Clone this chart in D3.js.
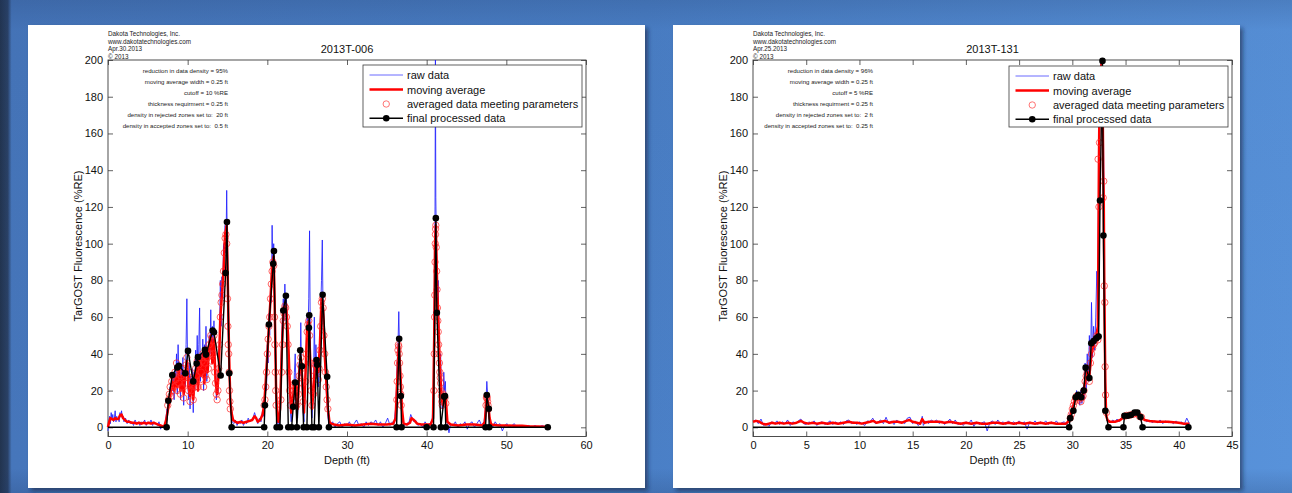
<!DOCTYPE html>
<html><head><meta charset="utf-8">
<script src="https://cdn.jsdelivr.net/npm/d3@7"></script>
<style>
html,body{margin:0;padding:0;background:#4a7fc6;}
svg{display:block;}
text{font-family:"Liberation Sans",Arial,Helvetica,sans-serif;}
</style>
</head><body>
<svg id="c" width="1292" height="493"></svg>
<script>
// ---------------- DATA ----------------
const yTicks = [0,20,40,60,80,100,120,140,160,180,200];
const leftXTicks = [0,10,20,30,40,50,60];
const rightXTicks = [0,5,10,15,20,25,30,35,40,45];

const leftTitle = "2013T-006";
const rightTitle = "2013T-131";
const xLabel = "Depth (ft)";
const yLabel = "TarGOST Fluorescence (%RE)";
const legendLabels = ["raw data","moving average","averaged data meeting parameters","final processed data"];
const leftHeader = ["Dakota Technologies, Inc.","www.dakotatechnologies.com","Apr.30.2013","\u00a9 2013"];
const rightHeader = ["Dakota Technologies, Inc.","www.dakotatechnologies.com","Apr.25.2013","\u00a9 2013"];
const leftNotes = ["reduction in data density = 95%","moving average width = 0.25 ft","cutoff = 10 %RE","thickness requirment = 0.25 ft","density in rejected zones set to:  20 ft","density in accepted zones set to:  0.5 ft"];
const rightNotes = ["reduction in data density = 96%","moving average width = 0.25 ft","cutoff = 5 %RE","thickness requirment = 0.25 ft","density in rejected zones set to:  2 ft","density in accepted zones set to:  0.25 ft"];

// raw data [depth, %RE]
const leftRaw = [[0,-2],[0.1,3],[0.2,6],[0.3,2],[0.4,8],[0.5,4],[0.6,7],[0.7,3],[0.8,5],[0.9,9],[1.0,3],[1.1,6],[1.2,4],[1.3,5],[1.4,3],[1.5,8],[1.6,6],[1.7,9],[1.8,5],[1.9,6],[2.0,3],[2.2,5],[2.4,2],[2.6,4],[2.8,2],[3.0,3],[3.2,1],[3.4,4],[3.6,2],[3.8,3],[4.0,1],[4.2,3],[4.4,2],[4.6,4],[4.8,1],[5.0,3],[5.2,2],[5.4,4],[5.6,1],[5.8,3],[6.0,2],[6.2,1],[6.4,3],[6.6,-1],[6.8,1],[7.0,0],[7.2,3],
[7.3,6],[7.4,10],[7.5,8],[7.6,15],[7.7,12],[7.8,22],[7.9,18],[8.0,28],[8.1,20],[8.2,30],[8.3,15],[8.4,32],[8.5,24],[8.6,40],[8.7,18],[8.8,45],[8.9,25],[9.0,35],[9.1,15],[9.2,33],[9.3,20],[9.4,38],[9.5,12],[9.6,30],[9.7,22],[9.8,45],[9.9,70],[10.0,30],[10.1,15],[10.2,35],[10.3,10],[10.4,28],[10.5,18],[10.6,32],[10.7,8],[10.8,30],[10.9,20],[11.0,42],[11.1,28],[11.2,50],[11.3,22],[11.4,45],[11.5,65],[11.6,25],[11.7,40],[11.8,30],[11.9,48],[12.0,20],[12.1,45],[12.2,30],[12.3,55],[12.4,25],[12.5,42],[12.6,35],[12.7,50],[12.8,40],[12.9,64],[13.0,35],[13.1,55],[13.2,38],[13.3,58],[13.4,30],[13.5,35],[13.6,15],[13.7,25],[13.8,18],[13.9,35],[14.0,50],[14.1,80],[14.2,55],[14.3,82],[14.4,70],[14.5,100],[14.6,85],[14.7,110],[14.8,95],[14.9,129],[15.0,90],[15.1,50],[15.2,35],[15.3,18],[15.4,10],[15.5,5],[15.6,3],
[15.8,2],[16.0,4],[16.2,1],[16.4,3],[16.6,2],[16.8,4],[17.0,1],[17.2,3],[17.4,2],[17.6,5],[17.8,3],[18.0,4],[18.2,5],[18.4,8],[18.6,5],[18.8,2],[19.0,5],[19.2,3],[19.4,9],
[19.5,6],[19.6,15],[19.7,10],[19.8,28],[19.9,20],[20.0,45],[20.1,35],[20.2,62],[20.3,50],[20.4,75],[20.5,68],[20.6,110],[20.7,85],[20.8,100],[20.9,70],[21.0,40],[21.1,15],[21.2,5],[21.3,2],[21.4,4],[21.5,1],[21.6,12],[21.7,30],[21.8,48],[21.9,60],[22.0,70],[22.1,58],[22.2,78],[22.3,62],[22.4,70],[22.5,55],[22.6,48],[22.7,30],[22.8,20],[22.9,8],[23.0,3],[23.1,10],[23.2,18],[23.3,12],[23.4,30],[23.5,40],[23.6,20],[23.7,12],[23.8,5],[23.9,20],[24.0,35],[24.1,28],[24.2,57],[24.3,30],[24.4,20],[24.5,8],[24.6,3],[24.7,15],[24.8,35],[24.9,45],[25.0,60],[25.1,50],[25.2,70],[25.3,107],[25.4,45],[25.5,20],[25.6,5],[25.7,12],[25.8,25],[25.9,60],[26.0,30],[26.1,45],[26.2,32],[26.3,38],[26.4,22],[26.5,30],[26.6,50],[26.7,65],[26.8,80],[26.9,102],[27.0,60],[27.1,50],[27.2,35],[27.3,30],[27.4,20],[27.5,12],[27.6,6],[27.7,2],[27.8,4],[27.9,1],
[28.2,3],[28.5,0],[28.8,2],[29.1,3],[29.4,0],[29.7,2],[30.0,1],[30.3,3],[30.6,0],[30.9,2],[31.2,4],[31.5,1],[31.8,2],[32.1,0],[32.4,3],[32.7,1],[33.0,3],[33.3,2],[33.6,4],[33.9,1],[34.2,3],[34.5,0],[34.8,2],[35.1,5],[35.4,1],[35.7,3],[35.9,2],[36.0,6],[36.1,10],[36.2,20],[36.3,35],[36.4,45],[36.5,63],[36.6,40],[36.7,30],[36.8,15],[36.9,8],[37.0,3],[37.2,1],[37.5,2],[37.8,3],[38.0,7],[38.2,5],[38.4,3],[38.6,4],[38.9,1],[39.2,2],[39.5,0],[39.8,3],[40.1,1],[40.4,2],[40.7,4],[40.85,20],[40.95,60],[41.05,120],[41.1,200],[41.15,125],[41.25,90],[41.35,70],[41.45,80],[41.55,50],[41.65,35],[41.75,40],[41.85,20],[41.95,10],[42.05,15],[42.15,30],[42.25,20],[42.35,25],[42.45,8],[42.6,2],[42.8,-3],[43.0,2],[43.3,1],[43.6,3],[43.9,0],[44.2,2],[44.5,1],[44.8,3],[45.1,-1],[45.4,2],[45.7,3],[46.0,0],[46.3,2],[46.6,4],[46.9,1],[47.2,3],[47.35,8],[47.45,15],[47.55,25],[47.65,18],[47.75,12],[47.85,6],[48.0,2],[48.3,0],[48.6,3],[48.9,1],[49.2,2],[49.5,-2],[49.8,1],[50.1,2],[50.4,0],[50.7,1],[51.0,2],[51.3,0],[51.6,1],[52.0,1],[52.4,0],[52.8,1],[53.2,0],[53.6,1],[54.0,0],[54.5,1],[55.0,0],[55.2,0.5]];

// moving average [depth, %RE]
const leftAvg = [[0,0],[0.15,3],[0.3,5],[0.5,4.5],[0.7,4],[0.9,5],[1.1,4.5],[1.3,4.5],[1.5,6.5],[1.7,7],[1.9,5],[2.1,4],[2.4,3],[2.7,3],[3.0,2.5],[3.3,2.5],[3.6,2],[3.9,2.5],[4.2,2],[4.5,2.5],[4.8,2],[5.1,2.5],[5.4,2],[5.7,2.5],[6.0,2],[6.3,1.5],[6.6,1],[6.9,0.5],[7.1,1],[7.3,4],
[7.5,9],[7.7,14],[7.9,20],[8.1,25],[8.3,20],[8.5,27],[8.7,22],[8.9,31],[9.1,20],[9.3,28],[9.5,18],[9.7,30],[9.9,36],[10.1,22],[10.3,17],[10.5,26],[10.7,15],[10.9,28],[11.1,33],[11.3,20],[11.5,38],[11.7,28],[11.9,40],[12.1,24],[12.3,43],[12.5,30],[12.7,45],[12.9,50],[13.1,35],[13.3,48],[13.5,25],[13.7,18],[13.9,30],[14.1,60],[14.3,72],[14.5,85],[14.7,105],[14.9,110],[15.05,75],[15.2,40],[15.35,15],[15.5,8],[15.7,4],[16,3],[16.3,2.5],[16.6,3],[17,2.5],[17.4,3],[17.8,3.5],[18.1,4],[18.4,6],[18.6,5],[18.8,3],[19.1,4],[19.4,7],[19.6,12],[19.8,25],[20.0,40],[20.2,55],[20.4,70],[20.6,88],[20.8,93],[20.95,60],[21.1,20],[21.25,5],[21.4,3],[21.6,10],[21.8,40],[22.0,62],[22.2,66],[22.4,64],[22.6,50],[22.8,25],[23.0,8],[23.2,15],[23.4,24],[23.6,22],[23.8,10],[24.0,30],[24.2,38],[24.4,25],[24.6,8],[24.8,30],[25.0,55],[25.2,58],[25.4,35],[25.6,10],[25.8,20],[26.0,35],[26.2,36],[26.4,30],[26.6,45],[26.8,70],[27.0,65],[27.2,40],[27.4,25],[27.6,10],[27.8,3],[28.0,2],[28.4,1.5],
[29,1],[30,1.5],[31,1],[32,1.5],[33,2],[34,1.5],[35,1.5],[35.8,2],[36.1,5],[36.3,25],[36.5,45],[36.7,30],[36.9,10],[37.1,2],[37.5,1.5],[37.9,2.5],[38.1,5],[38.4,4],[38.8,2],[39.3,1.5],[40,1.5],[40.5,1.5],[40.8,5],[40.95,50],[41.05,100],[41.15,110],[41.3,80],[41.45,60],[41.6,40],[41.75,25],[41.9,15],[42.05,12],[42.2,17],[42.4,15],[42.6,3],[43,1.5],[44,1],[45,1.5],[46,1.5],[47,1],[47.3,3],[47.5,15],[47.7,14],[47.9,5],[48.1,1.5],[49,1],[50,1],[51,0.8],[52,0.8],[53,0.5],[54,0.5],[55,0.3]];

// averaged data meeting parameters [depth, %RE]
const leftCircles = [[7.5,12],[7.6,15],[7.7,18],[7.8,22],[7.9,17],[8.0,25],[8.1,20],[8.2,28],[8.3,22],[8.4,30],[8.5,26],[8.6,35],[8.7,20],[8.8,32],[8.9,24],[9.0,30],[9.1,18],[9.2,28],[9.3,22],[9.4,32],[9.5,16],[9.6,27],[9.7,24],[9.8,34],[9.9,38],[10.0,28],[10.1,20],[10.2,30],[10.3,14],[10.4,24],[10.5,20],[10.6,26],[10.7,15],[10.8,25],[10.9,22],[11.0,32],[11.1,28],[11.2,36],[11.3,22],[11.4,34],[11.5,38],[11.6,26],[11.7,30],[11.8,36],[11.9,40],[12.0,22],[12.1,35],[12.2,28],[12.3,42],[12.4,26],[12.5,38],[12.6,32],[12.7,45],[12.8,40],[12.9,50],[13.0,36],[13.1,47],[13.2,40],[13.3,50],[13.4,30],[13.5,24],[13.6,18],[13.7,15],[13.8,20],[13.9,32],[14.0,45],[14.1,60],[14.2,68],[14.3,72],[14.4,78],[14.5,85],[14.6,95],[14.7,103],[14.8,105],[14.9,100],[15.0,70],[15.05,55],[15.1,45],[15.15,40],[15.2,30],[15.25,20],[15.3,14],[15.35,10],
[19.6,12],[19.7,15],[19.8,22],[19.9,30],[20.0,40],[20.1,48],[20.2,55],[20.3,60],[20.4,70],[20.5,78],[20.6,85],[20.7,90],[20.8,88],[20.9,60],[20.95,45],[21.0,30],[21.05,20],[21.1,12],[21.7,15],[21.8,30],[21.9,45],[22.0,58],[22.1,62],[22.2,66],[22.3,65],[22.4,60],[22.5,55],[22.6,45],[22.7,30],[22.8,20],[22.9,12],[23.2,14],[23.3,20],[23.4,24],[23.5,22],[23.6,18],[23.7,12],[23.9,18],[24.0,28],[24.1,34],[24.2,38],[24.3,32],[24.4,24],[24.5,14],[24.8,25],[24.9,40],[25.0,52],[25.1,56],[25.2,58],[25.3,50],[25.4,35],[25.5,20],[25.6,12],[25.8,18],[25.9,28],[26.0,34],[26.1,36],[26.2,33],[26.3,30],[26.4,26],[26.5,32],[26.6,42],[26.7,55],[26.8,68],[26.9,70],[27.0,65],[27.1,50],[27.2,40],[27.3,30],[27.4,22],[27.5,15],[27.6,10],
[36.25,15],[36.3,25],[36.35,35],[36.4,42],[36.45,45],[36.5,44],[36.55,40],[36.6,35],[36.65,28],[36.7,22],[36.75,18],[36.8,12],
[40.9,20],[40.95,40],[41.0,60],[41.02,72],[41.05,90],[41.08,100],[41.1,105],[41.12,108],[41.15,110],[41.2,98],[41.25,85],[41.3,75],[41.35,65],[41.4,58],[41.45,52],[41.5,45],[41.55,40],[41.6,35],[41.65,30],[41.7,27],[41.75,24],[41.8,20],[41.85,17],[41.9,14],[41.95,12],[42.0,15],[42.1,18],[42.2,17],[42.3,16],[42.4,13],
[47.45,12],[47.5,16],[47.55,17],[47.6,16],[47.65,14],[47.7,12],[47.75,10]];

// final processed data [depth, %RE]
const leftFinal = [[0,0],[7.36,0],[7.57,14.5],[8.07,28.5],[8.7,32.6],[8.9,33.5],[9.7,29.4],[10.04,41.6],[10.7,25],[11.13,34.7],[11.29,38.2],[12.17,42.2],[12.3,39.6],[13.13,52.7],[13.3,51.8],[14.14,28.2],[14.76,84],[14.93,111.8],[15.22,29.4],[15.52,0],[19.6,0],[19.7,12],[20.2,56],[20.74,89],[20.83,96],[21.17,0],[21.58,0],[22.0,63.6],[22.33,71.6],[22.63,0],[23.05,0],[23.25,11.2],[23.5,24.4],[23.71,0],[24.13,41.9],[24.34,33.2],[24.55,0],[24.97,0],[25.22,54.2],[25.26,61],[25.6,0],[25.89,0],[26.18,36.6],[26.26,34],[26.47,0],[26.94,72.2],[27.51,27.5],[27.73,0],[36.22,0],[36.55,48.2],[36.76,17],[36.85,0],[40.0,0],[40.86,0],[41.15,113.9],[41.28,62.4],[41.78,0],[42.2,16.7],[42.3,17],[42.4,0],[47.39,0],[47.55,17.6],[47.8,10.1],[47.85,0],[55.2,0]];

const rightRaw = [[0,3],[0.25,4],[0.5,2],[0.75,4.5],[1.0,1],[1.25,2],[1.5,0.5],[1.75,3],[2.0,2],[2.25,3.5],[2.5,1.5],[2.75,3],[3.0,2],[3.25,4],[3.5,1],[3.75,3],[4.0,2],[4.25,3.5],[4.5,4.5],[4.75,2],[5.0,1.5],[5.25,3],[5.5,2],[5.75,3.5],[6.0,1],[6.25,2.5],[6.5,3],[6.75,1.5],[7.0,2.5],[7.25,3.5],[7.5,1.5],[7.75,3],[8.0,2],[8.25,3],[8.5,1.5],[8.75,3.5],[9.0,4],[9.25,2],[9.5,3],[9.75,1.5],[10.0,3],[10.25,2],[10.5,1],[10.75,3.5],[11.0,3],[11.25,5],[11.5,2],[11.75,3],[12.0,4],[12.25,2],[12.5,5.5],[12.75,2],[13.0,3.5],[13.25,1.5],[13.5,4],[13.75,2.5],[14.0,3],[14.25,2],[14.5,5],[14.75,5.5],[15.0,2],[15.25,3.5],[15.5,1],[15.75,2],[15.9,6],[16.0,1],[16.25,3.5],[16.5,2],[16.75,4],[17.0,3],[17.25,4],[17.5,2],[17.75,3.5],[18.0,1.5],[18.25,3],[18.5,4.5],[18.75,2],[19.0,4],[19.25,1.5],[19.5,2.5],[19.75,1],[20.0,3],[20.25,2],[20.5,4],[20.75,0.5],[21.0,3],[21.25,1.5],[21.5,2.5],[21.75,3],[22.0,-2],[22.25,2.5],[22.5,3.5],[22.75,1.5],[23.0,4],[23.25,2],[23.5,3],[23.75,1.5],[24.0,3.5],[24.25,2],[24.5,3],[24.75,1.5],[25.0,3.5],[25.25,2],[25.5,3],[25.75,-1],[26.0,3],[26.25,2],[26.5,3.5],[26.75,1.5],[27.0,3],[27.25,2],[27.5,3.5],[27.75,1.5],[28.0,3],[28.25,2],[28.5,3.5],[28.75,1.5],[29.0,2.5],[29.25,3],[29.5,1.5],
[29.6,4],[29.7,3],[29.8,8],[29.9,6],[30.0,12],[30.1,9],[30.2,16],[30.3,14],[30.4,20],[30.5,15],[30.6,18],[30.7,12],[30.8,20],[30.9,13],[31.0,22],[31.1,15],[31.2,35],[31.3,20],[31.4,40],[31.5,25],[31.6,50],[31.7,30],[31.8,68],[31.9,38],[32.0,55],[32.1,42],[32.2,60],[32.3,85],[32.4,70],[32.45,120],[32.5,160],[32.6,190],[32.7,200],[32.8,200],[32.9,180],[32.95,140],[33.0,100],[33.05,60],[33.1,30],[33.15,12],[33.2,6],[33.3,3],[33.4,4],[33.6,2.5],[33.8,4],[34.0,3],[34.2,4.5],[34.4,3],[34.6,5],[34.8,6],[35.0,7],[35.2,6],[35.4,8],[35.6,6],[35.8,8.5],[36.0,7],[36.2,8],[36.4,6],[36.6,4.5],[36.8,4],[37.0,3],[37.25,4],[37.5,2.5],[37.75,3.5],[38.0,2.5],[38.25,4],[38.5,2],[38.75,3.5],[39.0,2.5],[39.25,3],[39.5,2],[39.75,3.5],[40.0,2],[40.25,3],[40.5,1.5],[40.75,5],[41.0,2]];

const rightAvg = [[0,3],[0.3,3.5],[0.6,3],[0.9,2],[1.2,1.5],[1.5,2],[1.8,2.5],[2.1,2],[2.5,2.5],[2.9,2],[3.3,2.5],[3.7,2],[4.1,2.5],[4.5,3.5],[4.8,2.5],[5.2,2],[5.6,2.5],[6.0,2],[6.5,2.5],[7,2],[7.5,2.5],[8,2],[8.5,2.5],[9,3],[9.4,2.5],[9.8,2.5],[10.2,2],[10.6,2.5],[11,3],[11.3,3.5],[11.6,2.5],[12,3],[12.4,3.5],[12.8,2.5],[13.2,3],[13.6,3],[14,2.5],[14.4,3.5],[14.7,4],[15,3],[15.4,2.5],[15.7,2],[15.9,4.5],[16.1,2.5],[16.5,3],[17,3],[17.5,3],[18,2.5],[18.5,3],[19,2.5],[19.5,2],[20,2.5],[20.5,2],[21,2.5],[21.5,2],[22,2],[22.5,2.5],[23,2.5],[23.5,2],[24,2.5],[24.5,2],[25,2.5],[25.5,2],[26,2.5],[26.5,2],[27,2.5],[27.5,2],[28,2.5],[28.5,2],[29,2],[29.4,2],[29.6,3],[29.8,6],[30.0,10],[30.2,14],[30.4,17],[30.6,16],[30.8,15],[31.0,17],[31.2,25],[31.4,30],[31.6,28],[31.8,40],[32.0,45],[32.2,48],[32.4,55],[32.45,100],[32.5,145],[32.55,175],[32.65,195],[32.75,198],[32.85,175],[32.9,140],[32.95,125],[33.0,80],[33.05,50],[33.1,25],[33.15,12],[33.2,6],[33.3,4],[33.5,3],[34,3],[34.5,4],[34.8,5.5],[35.1,6.5],[35.5,6.5],[35.9,7.5],[36.2,7],[36.5,5.5],[36.8,4],[37.2,3.5],[38,3],[39,3],[40,2.5],[40.5,2],[41,2]];

const rightCircles = [[29.8,5],[29.9,7],[30.0,10],[30.1,12],[30.2,14],[30.3,16],[30.4,17],[30.5,16],[30.6,15],[30.7,16],[30.8,14],[30.9,16],[31.0,17],[31.1,20],[31.2,25],[31.3,28],[31.4,30],[31.5,27],[31.6,25],[31.7,35],[31.8,40],[31.9,43],[32.0,45],[32.1,46],[32.2,48],[32.3,50],[32.4,47.6],[32.42,146],[32.5,120],[32.55,155],[32.65,180],[32.75,190],[32.9,125],[32.95,134],[33.0,77],[33.05,68],[33.08,33],[33.12,17.6],[33.2,8],[34.9,6],[35.1,6.5],[35.3,6.5],[35.5,6.8],[35.7,7],[35.9,7.5],[36.1,7.5],[36.3,6],[36.5,5.5]];

const rightFinal = [[0,0],[29.7,0],[29.8,5],[30.1,9],[30.32,16.4],[30.55,17.7],[30.83,16.4],[31.07,20],[31.25,32.5],[31.6,26.8],[31.78,45.8],[32.0,47],[32.25,48.5],[32.47,49.4],[32.6,123.5],[32.83,199.5],[32.92,104.4],[33.1,9],[33.4,0],[34.8,0],[34.9,6.3],[35.2,6.3],[35.5,6.7],[35.85,8],[36.1,8],[36.4,5.6],[36.6,0],[40.9,0]];

// ---------------- DRAWING ----------------
const svg = d3.select("#c");
const defs = svg.append("defs");
const bg = defs.append("linearGradient").attr("id","bgH").attr("x1","0").attr("x2","1").attr("y1","0").attr("y2","0");
[["0%","#22344f"],["0.6%","#2a4166"],["0.9%","#4676bb"],["50%","#4a7fc6"],["100%","#5892da"]].forEach(s=>bg.append("stop").attr("offset",s[0]).attr("stop-color",s[1]));
const bgV = defs.append("linearGradient").attr("id","bgV").attr("x1","0").attr("x2","0").attr("y1","0").attr("y2","1");
[["0%","rgba(30,55,100,0.22)"],["6%","rgba(30,55,100,0.05)"],["95%","rgba(30,55,100,0)"],["100%","rgba(30,55,100,0.2)"]].forEach(s=>bgV.append("stop").attr("offset",s[0]).attr("stop-color",s[1]));
const sh = defs.append("filter").attr("id","shadow").attr("x","-5%").attr("y","-5%").attr("width","115%").attr("height","115%");
sh.append("feDropShadow").attr("dx",3).attr("dy",3).attr("stdDeviation",2).attr("flood-color","#10203a").attr("flood-opacity",0.55);

svg.append("rect").attr("width",1292).attr("height",493).attr("fill","url(#bgH)");
svg.append("rect").attr("width",1292).attr("height",493).attr("fill","url(#bgV)");

const FONT = '"Liberation Sans",Arial,Helvetica,sans-serif';
const yDomain = [-5,200];

function drawChart(cfg){
  const g = svg.append("g");
  g.append("rect").attr("x",cfg.panel[0]).attr("y",cfg.panel[1]).attr("width",cfg.panel[2]).attr("height",cfg.panel[3])
    .attr("fill","#ffffff").attr("filter","url(#shadow)");

  const x = d3.scaleLinear().domain(cfg.xDomain).range([cfg.left,cfg.right]);
  const y = d3.scaleLinear().domain(yDomain).range([cfg.bottom,cfg.top]);

  const styleAxis = sel => {
    sel.select(".domain").remove();
    sel.selectAll(".tick line").attr("stroke","#3a3a3a").attr("stroke-width",0.8);
    sel.selectAll(".tick text").attr("fill","#111").style("font-family",FONT).style("font-size","11px");
  };
  g.append("g").attr("transform",`translate(0,${cfg.bottom})`)
    .call(d3.axisBottom(x).tickValues(cfg.xTicks).tickSize(-5).tickPadding(5).tickFormat(d3.format("d"))).call(styleAxis);
  g.append("g").attr("transform",`translate(0,${cfg.top})`)
    .call(d3.axisTop(x).tickValues(cfg.xTicks).tickSize(-5).tickFormat("")).call(styleAxis);
  g.append("g").attr("transform",`translate(${cfg.left},0)`)
    .call(d3.axisLeft(y).tickValues(yTicks).tickSize(-5).tickPadding(5).tickFormat(d3.format("d"))).call(styleAxis);
  g.append("g").attr("transform",`translate(${cfg.right},0)`)
    .call(d3.axisRight(y).tickValues(yTicks).tickSize(-5).tickFormat("")).call(styleAxis);
  g.append("rect").attr("x",cfg.left).attr("y",cfg.top).attr("width",cfg.right-cfg.left).attr("height",cfg.bottom-cfg.top)
    .attr("fill","none").attr("stroke","#3a3a3a").attr("stroke-width",0.9);

  // header
  g.selectAll("text.hdr").data(cfg.header).enter().append("text").attr("class","hdr")
    .attr("x",cfg.left).attr("y",(d,i)=>36+i*7.7).style("font-size","6.3px").attr("fill","#222").text(d=>d);
  // title
  g.append("text").attr("x",(cfg.left+cfg.right)/2).attr("y",52.5).attr("text-anchor","middle")
    .style("font-size","11px").attr("fill","#111").text(cfg.title);
  // axis labels
  g.append("text").attr("x",(cfg.left+cfg.right)/2).attr("y",464).attr("text-anchor","middle")
    .style("font-size","11px").attr("fill","#111").text(xLabel);
  g.append("text").attr("transform",`translate(${cfg.left-26},246) rotate(-90)`).attr("text-anchor","middle")
    .style("font-size","11px").attr("fill","#111").text(yLabel);
  // notes
  g.selectAll("text.note").data(cfg.notes).enter().append("text").attr("class","note")
    .attr("x",cfg.left+120).attr("y",(d,i)=>73.3+i*11).attr("text-anchor","end")
    .style("font-size","6.1px").style("white-space","pre").attr("fill","#222").text(d=>d);

  // data
  const line = d3.line().x(d=>x(d[0])).y(d=>y(d[1]));
  g.append("path").datum(cfg.raw).attr("d",line).attr("fill","none").attr("stroke","#2020ff").attr("stroke-width",0.85).attr("stroke-linejoin","round");
  g.append("path").datum(cfg.avg).attr("d",line).attr("fill","none").attr("stroke","#ff0000").attr("stroke-width",2.5).attr("stroke-linejoin","round");
  g.selectAll("circle.avgpt").data(cfg.circles).enter().append("circle").attr("class","avgpt")
    .attr("cx",d=>x(d[0])).attr("cy",d=>y(d[1])).attr("r",3.2)
    .attr("fill","none").attr("stroke","#ff2a2a").attr("stroke-width",0.8).attr("stroke-opacity",0.9);
  g.append("path").datum(cfg.final).attr("d",line).attr("fill","none").attr("stroke","#000").attr("stroke-width",1.4);
  g.selectAll("circle.fin").data(cfg.final.filter(d=>d[0]>0)).enter().append("circle").attr("class","fin")
    .attr("cx",d=>x(d[0])).attr("cy",d=>y(d[1])).attr("r",3.3).attr("fill","#000");

  // legend
  const L = cfg.legend;
  g.append("rect").attr("x",L.x).attr("y",L.y).attr("width",L.w).attr("height",L.h)
    .attr("fill","#fff").attr("stroke","#3a3a3a").attr("stroke-width",0.8);
  const rows = [L.y+10,L.y+24.5,L.y+39,L.y+53.3];
  const lx1 = L.x+6.5, lx2 = L.x+40, lc = (lx1+lx2)/2;
  g.append("line").attr("x1",lx1).attr("x2",lx2).attr("y1",rows[0]).attr("y2",rows[0]).attr("stroke","#5a5aff").attr("stroke-width",0.9);
  g.append("line").attr("x1",lx1).attr("x2",lx2).attr("y1",rows[1]).attr("y2",rows[1]).attr("stroke","#ff0000").attr("stroke-width",2.4);
  g.append("circle").attr("cx",lc).attr("cy",rows[2]).attr("r",3.2).attr("fill","none").attr("stroke","#ff5050").attr("stroke-width",0.8);
  g.append("line").attr("x1",lx1).attr("x2",lx2).attr("y1",rows[3]).attr("y2",rows[3]).attr("stroke","#000").attr("stroke-width",1.4);
  g.append("circle").attr("cx",lc).attr("cy",rows[3]).attr("r",3.3).attr("fill","#000");
  legendLabels.forEach((t,i)=>{
    g.append("text").attr("x",L.x+44).attr("y",rows[i]+4).style("font-size","11px").attr("fill","#111").text(t);
  });
}

drawChart({
  panel:[28,25,617,463], left:108, right:586, top:60, bottom:436.5,
  xDomain:[0,60], xTicks:leftXTicks, title:leftTitle, header:leftHeader, notes:leftNotes,
  raw:leftRaw, avg:leftAvg, circles:leftCircles, final:leftFinal,
  legend:{x:363,y:65,w:219,h:62}
});
drawChart({
  panel:[673,25,567,463], left:753, right:1232, top:60, bottom:436.5,
  xDomain:[0,45], xTicks:rightXTicks, title:rightTitle, header:rightHeader, notes:rightNotes,
  raw:rightRaw, avg:rightAvg, circles:rightCircles, final:rightFinal,
  legend:{x:1009,y:66,w:219,h:61}
});
</script>
</body></html>
